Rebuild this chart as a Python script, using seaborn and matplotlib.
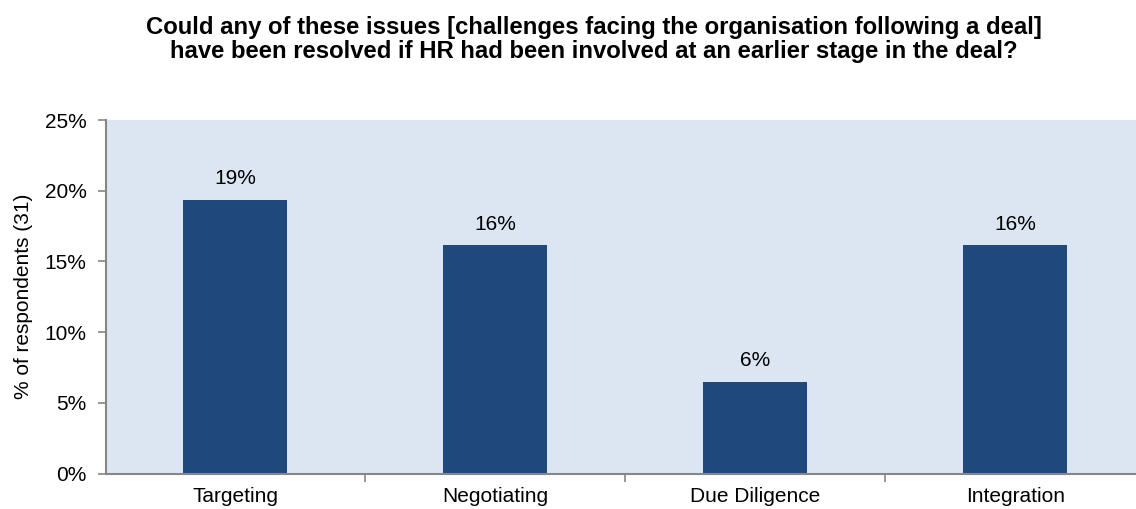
import matplotlib
matplotlib.use("Agg")
import matplotlib.pyplot as plt
from matplotlib.ticker import FuncFormatter, FixedLocator
import seaborn as sns

# Survey results: share of 31 respondents per deal stage (percent)
categories = ["Targeting", "Negotiating", "Due Diligence", "Integration"]
values = [19.35, 16.13, 6.45, 16.13]
y_ticks = [0, 5, 10, 15, 20, 25]

title = ("Could any of these issues [challenges facing the organisation following a deal]\n"
         "have been resolved if HR had been involved at an earlier stage in the deal?")
y_label = "% of respondents (31)"

BAR = "#1F497D"
PLOT_BG = "#DCE6F2"
AXIS_GREY = "#868686"

sns.set_theme(style="white")
plt.rcParams["font.family"] = ["Liberation Sans", "DejaVu Sans"]

fig = plt.figure(figsize=(11.36, 5.09), dpi=100)
W, H = 1136, 509
left_px, right_px, top_px, bottom_px = 106, 1136, 120, 473.5
ax = fig.add_axes([left_px / W, (H - bottom_px) / H,
                   (right_px - left_px) / W, (bottom_px - top_px) / H])
ax.set_facecolor(PLOT_BG)

sns.barplot(x=categories, y=values, color=BAR, saturation=1, width=0.4,
            errorbar=None, ax=ax, linewidth=0)

ax.set_xlim(-0.498, 3.4635)
ax.set_ylim(0, 25)
ax.yaxis.set_major_locator(FixedLocator(y_ticks))
ax.yaxis.set_major_formatter(FuncFormatter(lambda v, _: f"{v:.0f}%"))

# category labels sit at bar centres, tick marks fall between categories
ax.set_xticks(range(len(categories)))
ax.set_xticklabels(categories)
ax.set_xticks([0.5, 1.5, 2.5], minor=True)
ax.tick_params(axis="x", which="major", length=0, pad=10, labelsize=15, labelcolor="black")
ax.tick_params(axis="x", which="minor", length=5.5, width=1.2, color=AXIS_GREY, direction="out")
ax.tick_params(axis="y", which="major", length=6, width=1.2, color=AXIS_GREY,
               direction="out", pad=8, labelsize=15, labelcolor="black")
ax.tick_params(left=True, bottom=True, which="both")

for side in ("top", "right"):
    ax.spines[side].set_visible(False)
for side in ("left", "bottom"):
    ax.spines[side].set_color(AXIS_GREY)
    ax.spines[side].set_linewidth(1.5)

ax.set_xlabel("")
ax.set_ylabel(y_label, fontsize=15, color="black", labelpad=8)

for i, v in enumerate(values):
    ax.annotate(f"{v:.0f}%", (i, v), xytext=(0, 8.5), textcoords="offset points",
                ha="center", va="bottom", fontsize=15, color="black")

fig.text(594 / W, 1 - 16 / H, title, ha="center", va="top", fontsize=17.2,
         fontweight="bold", linespacing=1.05, color="black")

fig.savefig("out.png", dpi=100, facecolor="white")
